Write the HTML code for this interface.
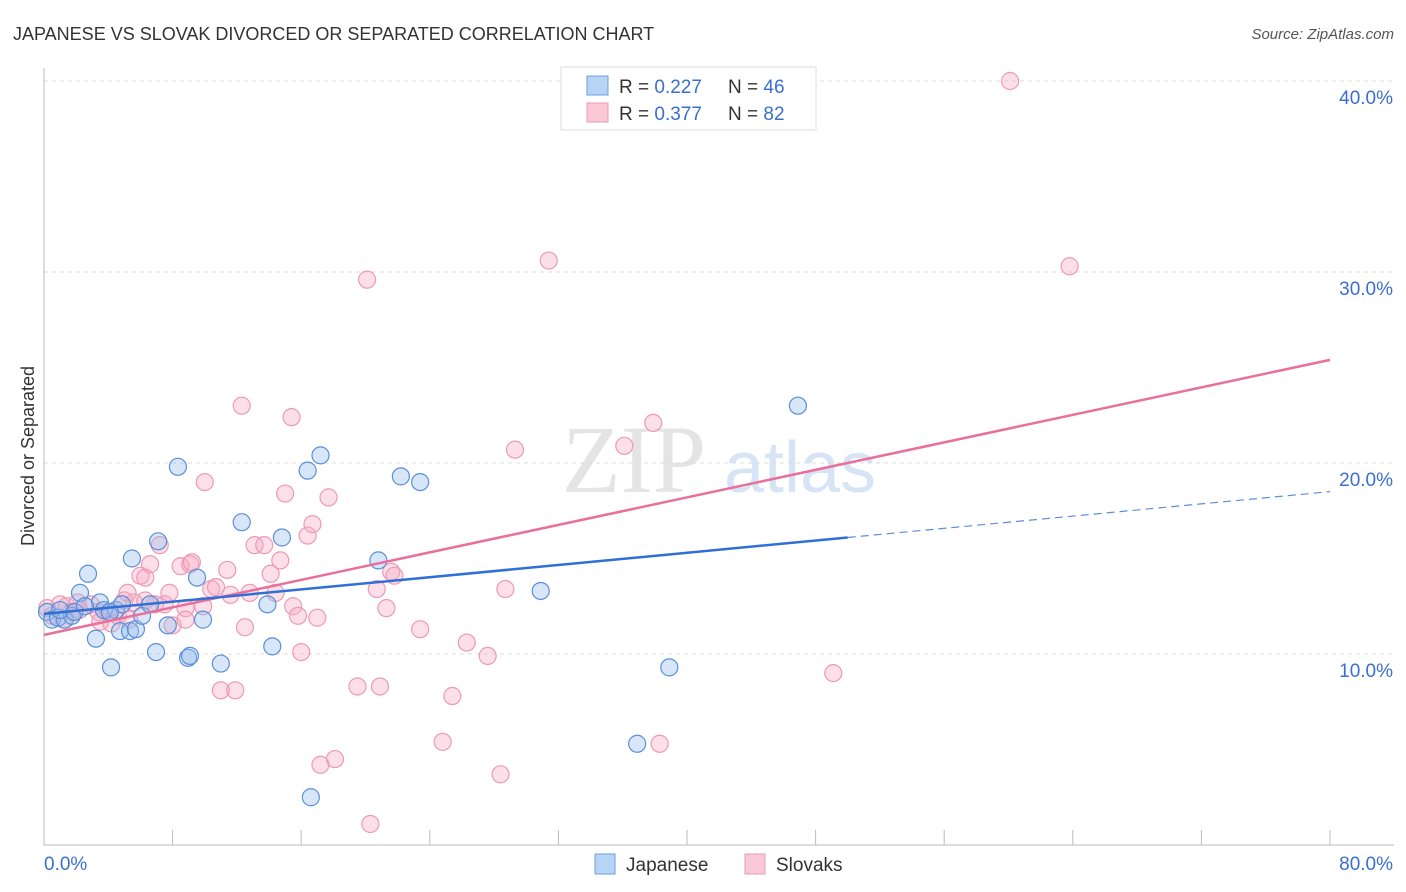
<!DOCTYPE html>
<html><head><meta charset="utf-8">
<style>
body{margin:0;background:#fff;font-family:"Liberation Sans",sans-serif;}
#wrap{position:relative;width:1406px;height:892px;overflow:hidden;}
</style></head><body>
<div id="wrap">
<svg id="svg" width="1406" height="892" xmlns="http://www.w3.org/2000/svg">
<text x="13" y="40" font-size="18" fill="#333">JAPANESE VS SLOVAK DIVORCED OR SEPARATED CORRELATION CHART</text>
<text x="1394" y="39" font-size="15" fill="#555" text-anchor="end" font-style="italic">Source: ZipAtlas.com</text>
<text x="634" y="492" font-size="96" fill="#e4e4e4" font-family="Liberation Serif" text-anchor="middle">ZIP</text>
<text x="800" y="492" font-size="72" fill="#d6e4f5" text-anchor="middle">atlas</text>
<g id="grid"></g>
<g id="axes"></g>
<g id="pts"></g>
<g id="lines"></g>
<text transform="translate(34,456) rotate(-90)" font-size="18" fill="#333" text-anchor="middle">Divorced or Separated</text>
<g>
<rect x="561" y="67" width="255" height="63" fill="#fff" stroke="#ddd"/>
<rect x="587" y="76" width="21" height="19" fill="#b8d4f5" stroke="#6d9ee0"/>
<rect x="587" y="103" width="21" height="19" fill="#fbc8d8" stroke="#ea9ab4"/>
<text x="619" y="93" font-size="19" fill="#333">R = <tspan fill="#3a6fd0">0.227</tspan></text>
<text x="728" y="93" font-size="19" fill="#333">N = <tspan fill="#3a6fd0">46</tspan></text>
<text x="619" y="120" font-size="19" fill="#333">R = <tspan fill="#3a6fd0">0.377</tspan></text>
<text x="728" y="120" font-size="19" fill="#333">N = <tspan fill="#3a6fd0">82</tspan></text>
</g>
<g>
<rect x="595" y="854" width="20" height="20" fill="#b8d4f5" stroke="#6d9ee0"/>
<text x="626" y="871" font-size="19" fill="#333">Japanese</text>
<rect x="745" y="854" width="20" height="20" fill="#fbc8d8" stroke="#ea9ab4"/>
<text x="776" y="871" font-size="19" fill="#333">Slovaks</text>
</g>
</svg>
</div>
<script>
const blueX=[0.19,0.5,0.87,1.3,1.74,2.24,2.74,3.23,3.48,3.73,4.17,4.48,4.73,4.85,5.35,5.47,5.72,6.1,6.6,6.97,7.1,7.7,8.33,8.96,9.08,9.52,9.89,11.0,12.3,13.9,14.2,14.8,16.4,16.6,17.2,20.8,22.2,23.4,30.9,36.9,38.9,46.9,1.0,1.9,2.55,4.1];
const blueY=[12.2,11.8,11.9,11.8,12.0,13.2,14.2,10.8,12.7,12.3,9.3,12.3,11.2,12.6,11.2,15.0,11.3,12.0,12.6,10.1,15.9,11.5,19.8,9.8,9.9,14.0,11.8,9.5,16.9,12.6,10.4,16.1,19.6,2.5,20.4,14.9,19.3,19.0,13.3,5.3,9.3,23.0,12.3,12.2,12.5,12.2];
const pinkX=[0.2,0.5,1.0,1.4,1.7,2.2,2.9,3.4,4.0,4.6,5.0,5.2,5.6,6.0,6.3,6.6,6.9,7.2,7.5,7.8,8.0,8.5,8.8,9.1,9.2,10.0,9.9,10.4,10.7,11.0,11.4,11.6,11.9,12.3,12.5,12.8,13.1,13.7,14.1,14.4,14.7,15.0,15.4,15.5,15.8,16.0,16.4,16.7,17.0,17.7,19.5,20.1,20.3,20.7,20.9,21.3,21.6,21.8,17.2,18.1,23.4,24.8,25.4,26.3,27.6,28.4,28.7,29.3,31.4,36.1,37.9,38.3,49.1,60.1,63.8,3.5,4.2,6.3,8.8,1.2,2.1,5.3];
const pinkY=[12.4,12.0,12.6,12.5,12.2,12.3,12.6,12.2,12.2,12.0,12.8,13.2,12.7,14.1,14.0,14.7,12.6,15.7,12.6,13.2,11.5,14.6,12.4,14.7,14.8,19.0,12.5,13.4,13.5,8.1,14.4,13.1,8.1,23.0,11.4,13.2,15.7,15.7,14.2,13.2,14.9,18.4,22.4,12.5,12.0,10.1,16.2,16.8,11.9,18.2,8.3,29.6,1.1,13.4,8.3,12.4,14.3,14.1,4.2,4.5,11.3,5.4,7.8,10.6,9.9,3.7,13.4,20.7,30.6,20.9,22.1,5.3,9.0,40.0,30.3,11.7,11.6,12.8,11.8,11.8,12.7,11.8];
const yTicks=[10,20,30,40];
const yTickLabels=["10.0%","20.0%","30.0%","40.0%"];
const xTickVals=[0,8,16,24,32,40,48,56,64,72,80];
const blueTrend=[12.1,18.5];
const pinkTrend=[11.0,25.4];
const blueSolidEnd=50;

const NS="http://www.w3.org/2000/svg";
const sx=v=>44+v/80*1286;
const sy=v=>845-v*19.1;
function mk(tag,attrs,parent){const e=document.createElementNS(NS,tag);for(const k in attrs)e.setAttribute(k,attrs[k]);document.getElementById(parent).appendChild(e);return e;}
yTicks.forEach((t,i)=>{
  const l=mk('line',{x1:44,x2:1394,y1:sy(t),y2:sy(t),stroke:'#ddd','stroke-dasharray':'4,4'},'grid');
  
  
  const tx=mk('text',{x:1393,y:sy(t)+23,'font-size':19,fill:'#3a6fd0','text-anchor':'end'},'grid');
  tx.textContent=yTickLabels[i];
  
  
});
let a=mk('line',{x1:44,x2:44,y1:68,y2:845,stroke:'#bbb'},'axes');


a=mk('line',{x1:44,x2:1394,y1:845,y2:845,stroke:'#bbb'},'axes');


xTickVals.forEach(v=>{const t=mk('line',{x1:sx(v),x2:sx(v),y1:830,y2:845,stroke:'#bbb'},'axes');
  
  });
let t0=mk('text',{x:44,y:870,'font-size':19,fill:'#3a6fd0'},'axes');t0.textContent='0.0%';


let t1=mk('text',{x:1393,y:870,'font-size':19,fill:'#3a6fd0','text-anchor':'end'},'axes');t1.textContent='80.0%';


pinkX.forEach((x,i)=>{const c=mk('circle',{cx:sx(x),cy:sy(pinkY[i]),r:8.5,fill:'rgba(248,170,195,0.38)',stroke:'#ec9ab5','stroke-width':1.2},'pts');
  
  });
blueX.forEach((x,i)=>{const c=mk('circle',{cx:sx(x),cy:sy(blueY[i]),r:8.5,fill:'rgba(150,190,240,0.38)',stroke:'#5b8fd8','stroke-width':1.2},'pts');
  
  });
const bAt=v=>blueTrend[0]+(blueTrend[1]-blueTrend[0])*v/80;
let ln=mk('line',{x1:sx(0),y1:sy(pinkTrend[0]),x2:sx(80),y2:sy(pinkTrend[1]),stroke:'#e8709a','stroke-width':2.5},'lines');


ln=mk('line',{x1:sx(0),y1:sy(bAt(0)),x2:sx(blueSolidEnd),y2:sy(bAt(blueSolidEnd)),stroke:'#2f6fd6','stroke-width':2.5},'lines');


ln=mk('line',{x1:sx(blueSolidEnd),y1:sy(bAt(blueSolidEnd)),x2:sx(80),y2:sy(bAt(80)),stroke:'#5b8fd8','stroke-width':1.2,'stroke-dasharray':'8,5'},'lines');


</script>
</body></html>
